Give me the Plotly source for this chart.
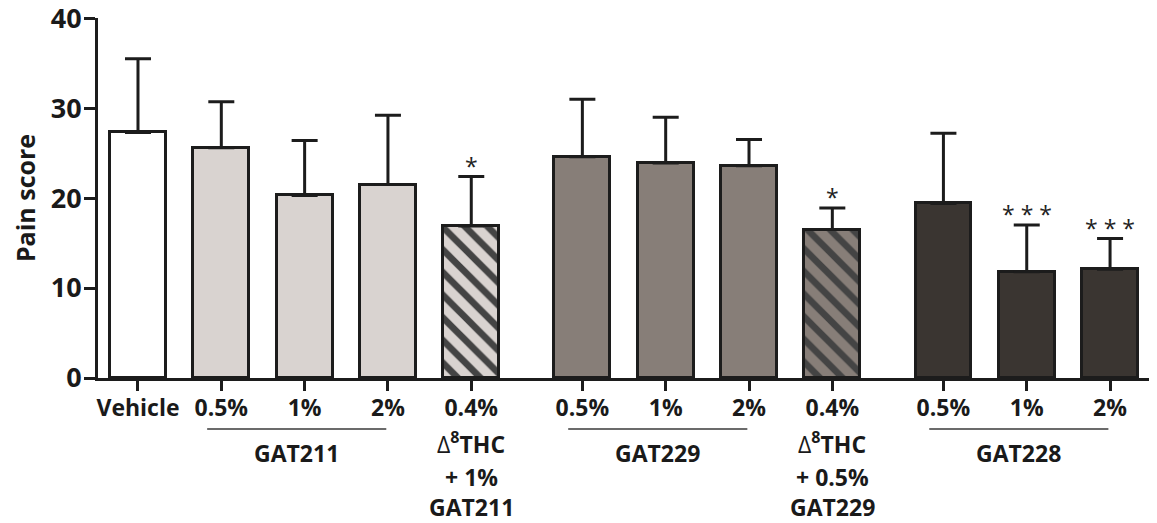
import plotly.graph_objects as go

labels = ["Vehicle", "0.5%", "1%", "2%", "0.4%", "0.5%", "1%", "2%", "0.4%", "0.5%", "1%", "2%"]
means = [27.3, 25.6, 20.3, 21.5, 16.9, 24.6, 23.9, 23.6, 16.5, 19.4, 11.8, 12.1]
sem = [8.2, 5.1, 6.1, 7.7, 5.5, 6.4, 5.1, 2.9, 2.4, 7.8, 5.2, 3.4]
cluster = [0, 0, 0, 0, 0, 1, 1, 1, 1, 2, 2, 2]
treatment = ["Vehicle", "GAT211", "GAT211", "GAT211", "Combo211",
             "GAT229", "GAT229", "GAT229", "Combo229",
             "GAT228", "GAT228", "GAT228"]
significance = ["", "", "", "", "*", "", "", "", "*", "", "***", "***"]
groups = [("GAT211", [1, 2, 3]), ("GAT229", [5, 6, 7]), ("GAT228", [9, 10, 11])]
DELTA = "<span style='font-weight:normal'>Δ</span><sup>8</sup>THC"
combo_labels = {4: [DELTA, "+ 1%", "GAT211"],
                8: [DELTA, "+ 0.5%", "GAT229"]}
y_ticks = [0, 10, 20, 30, 40]

fill = {"Vehicle": "#ffffff", "GAT211": "#d9d3d0", "Combo211": "#d9d3d0",
        "GAT229": "#877e78", "Combo229": "#877e78", "GAT228": "#3a3531"}
hatch = {"Combo211": "\\", "Combo229": "\\"}

GAP = 1 / 3
xpos = [i + c * GAP for i, c in enumerate(cluster)]
INK = "#1c1c1c"
FONT = "Open Sans"

# the page body has an 8px default margin; size the figure to compensate
OFF = 8
TOP, BOTTOM = 18, 378  # plot-area rows on screen

fig = go.Figure()
fig.add_trace(go.Bar(
    x=xpos, y=means, width=0.67,
    marker=dict(
        color=[fill[t] for t in treatment],
        line=dict(color=INK, width=3),
        pattern=dict(shape=[hatch.get(t, "") for t in treatment],
                     fgcolor="#111111", fgopacity=1, size=16, solidity=0.42),
    ),
    error_y=dict(type="data", array=sem, arrayminus=[0] * len(sem),
                 symmetric=False, color=INK, thickness=3, width=13),
    showlegend=False, hoverinfo="skip",
))


def py(p):
    # screen pixel row -> paper y
    return (BOTTOM - p) / (BOTTOM - TOP)


annotations = []
for i, s in enumerate(significance):
    if s:
        annotations.append(dict(
            x=xpos[i], y=means[i] + sem[i], xref="x", yref="y",
            text=" ".join(s), showarrow=False, yanchor="middle", yshift=11,
            font=dict(family=FONT, size=23, color="#222222"),
        ))

rows = [443, 477, 507]
for i, lines in combo_labels.items():
    for line, r in zip(lines, rows):
        annotations.append(dict(
            x=xpos[i], y=py(r), xref="x", yref="paper", text=line,
            showarrow=False, yanchor="middle",
            font=dict(family=FONT, size=23, color="#1a1a1a", weight="bold"),
        ))

shapes = []
for name, idx in groups:
    x0 = xpos[idx[0]] - 0.17
    x1 = xpos[idx[-1]] - 0.02
    shapes.append(dict(type="line", xref="x", yref="paper", x0=x0, x1=x1,
                       y0=py(429), y1=py(429),
                       line=dict(color="#3a3a3a", width=1.5)))
    annotations.append(dict(
        x=(x0 + x1) / 2, y=py(453), xref="x", yref="paper", text=name,
        showarrow=False, yanchor="middle",
        font=dict(family=FONT, size=23, color="#1a1a1a", weight="bold"),
    ))

fig.update_layout(
    width=1157 - OFF, height=523 - OFF,
    margin=dict(l=98 - OFF, r=0, t=TOP - OFF, b=523 - BOTTOM),
    paper_bgcolor="white", plot_bgcolor="white",
    bargap=0,
    xaxis=dict(
        range=[-0.48, 12.23], tickmode="array", tickvals=xpos, ticktext=labels,
        showline=True, linecolor=INK, linewidth=3, ticks="outside",
        ticklen=10, tickwidth=3, tickcolor=INK, showgrid=False, zeroline=False,
        tickfont=dict(family=FONT, size=23, color="#1a1a1a", weight="bold"),
        ticklabelstandoff=-3, automargin=False,
    ),
    yaxis=dict(
        range=[0, 40.02], tickmode="array", tickvals=y_ticks,
        ticktext=[str(v) for v in y_ticks], ticklabeloverflow="allow",
        showline=True, linecolor=INK, linewidth=3, ticks="outside",
        ticklen=11, tickwidth=3, tickcolor=INK, showgrid=False, zeroline=False,
        tickfont=dict(family=FONT, size=27, color="#1a1a1a", weight="bold"),
        ticklabelstandoff=-3, automargin=False,
        title=dict(text="Pain score", standoff=16,
                   font=dict(family=FONT, size=25, color="#1a1a1a", weight="bold")),
    ),
    annotations=annotations, shapes=shapes,
)

fig.write_html("out.html")
